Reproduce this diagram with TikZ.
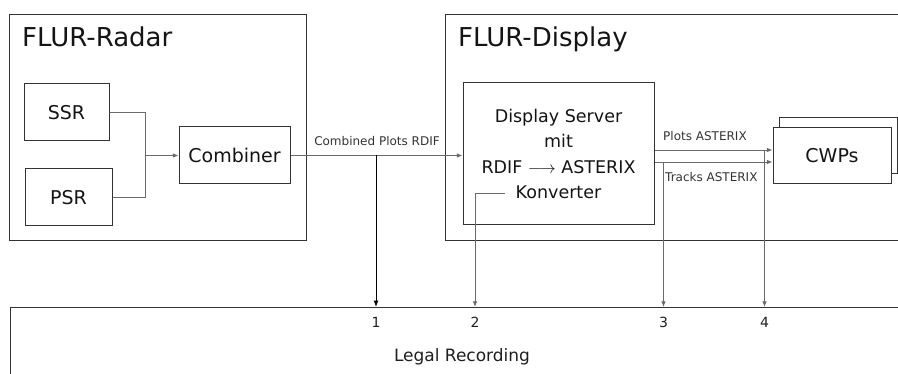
\documentclass[tikz,border=0pt]{standalone}
\usepackage{fontspec}
\setmainfont{DejaVu Sans}
\usepackage{tikz}
\usetikzlibrary{
  arrows.meta,
  positioning,
  calc,
}
\definecolor{frame}{HTML}{333333}
\definecolor{wire}{HTML}{6A6A6A}
\tikzset{
  groupbox/.style={
    rectangle, draw=frame, line width=1.3pt, anchor=north west, inner sep=0pt,
  },
  unitbox/.style={
    rectangle, draw=frame, line width=1pt, fill=white, inner sep=2pt,
    align=center, font=\fontsize{19}{23}\selectfont, text=black!92,
  },
  grouptitle/.style={
    anchor=north west, inner sep=0pt, font=\fontsize{26}{30}\selectfont,
    text=black!92,
  },
  chanlabel/.style={
    inner sep=1pt, font=\fontsize{12}{14}\selectfont, text=black!80,
  },
  numlabel/.style={
    inner sep=1pt, font=\fontsize{14}{16}\selectfont, text=black!88,
  },
  arrowMain/.style={
    -{Latex[length=2.2mm,width=1.7mm]}, line width=1pt, draw=black,
  },
  arrowThin/.style={
    -{Latex[length=2mm,width=1.6mm]}, line width=0.8pt, draw=wire,
  },
  wireLine/.style={
    line width=0.8pt, draw=wire,
  },
}

\begin{document}
\begin{tikzpicture}[x=1pt,y=-1pt]
\clip (0,0) rectangle (898,374);

% groups
\node[groupbox, minimum width=297pt, minimum height=226pt] (radar) at (9,14) {};
\node[grouptitle] (radarTitle) at (22,27) {FLUR-Radar};
\node[groupbox, minimum width=470pt, minimum height=226pt] (display) at (445,14) {};
\node[grouptitle] (displayTitle) at (458,27) {FLUR-Display};
\node[groupbox, minimum width=900pt, minimum height=100pt] (legal) at (10,307) {};
\node[font=\fontsize{17}{20}\selectfont, text=black!88] (legalLabel) at (462,357) {Legal Recording};

% units
\node[unitbox, minimum width=85pt, minimum height=57pt] (ssr) at (66.5,112.5) {SSR};
\node[unitbox, minimum width=87pt, minimum height=57pt] (psr) at (68.5,197.5) {PSR};
\node[unitbox, minimum width=111pt, minimum height=57pt] (comb) at (234.5,155.5) {Combiner};
\node[unitbox, minimum width=191pt, minimum height=142pt,
      font=\fontsize{17.5}{25.5}\selectfont] (server) at (558.5,154)
  {Display Server\\mit\\RDIF $\longrightarrow$ ASTERIX\\Konverter};
\node[unitbox, minimum width=118pt, minimum height=56pt] (cwpsBack) at (838,146) {};
\node[unitbox, minimum width=118pt, minimum height=56pt] (cwps) at (832,156) {CWPs};

% radar side
\coordinate (merge) at (145,155.5);
\draw[wireLine] (ssr.east) -| (merge);
\draw[wireLine] (psr.east) -| (merge);
\draw[arrowThin] (merge) -- (comb.west);
\draw[arrowThin] (comb.east) -- (comb.east -| server.west);
\node[chanlabel] (rdifLabel) at (377,141) {Combined Plots RDIF};

% display side
\coordinate (plotsOut) at ([yshift=4pt]server.east);
\coordinate (tracksOut) at ([yshift=-8pt]server.east);
\draw[arrowThin] (plotsOut) -- (plotsOut -| cwps.west);
\draw[arrowThin] (tracksOut) -- (tracksOut -| cwps.west);
\node[chanlabel, anchor=west] (plotsLabel) at (662,136) {Plots ASTERIX};
\node[chanlabel, anchor=west] (tracksLabel) at (664,177) {Tracks ASTERIX};

% recording taps
\coordinate (tap1) at (376,155.5);
\coordinate (konvOut) at (505,193);
\coordinate (tap2) at (475,193);
\coordinate (tap3) at ($(tracksOut)+(9,0)$);
\coordinate (tap4) at ($(plotsOut)+(110,0)$);
\draw[arrowMain] (tap1) -- (tap1 |- legal.north);
\draw[arrowThin] (konvOut) -- (tap2) -- (tap2 |- legal.north);
\draw[arrowThin] (tap3) -- (tap3 |- legal.north);
\draw[arrowThin] (tap4) -- (tap4 |- legal.north);
\foreach \tap/\num in {tap1/1, tap2/2, tap3/3, tap4/4}
  \node[numlabel] (num\num) at ($(\tap |- legal.north)+(0,15)$) {\num};
\end{tikzpicture}
\end{document}
